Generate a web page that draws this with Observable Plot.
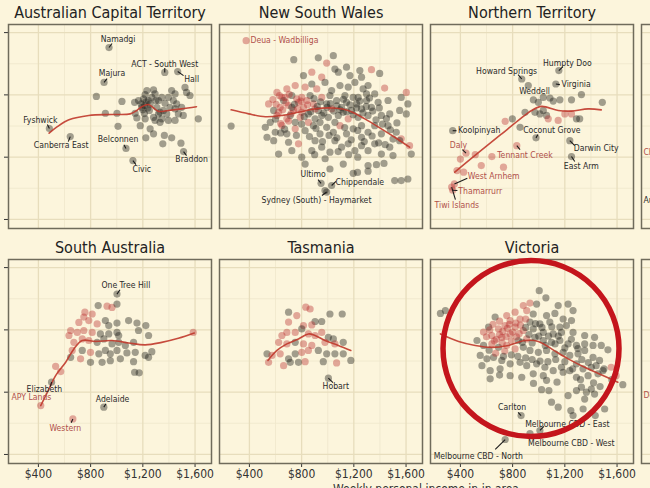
<!DOCTYPE html>
<html><head><meta charset="utf-8">
<script src="https://cdn.jsdelivr.net/npm/d3@7"></script>
<script src="https://cdn.jsdelivr.net/npm/@observablehq/plot@0.6"></script>
<style>
html,body{margin:0;padding:0;background:#fcf5dc;overflow:hidden;}
#wrap{width:852px;}
#wrap svg, #wrap svg text, #xlabel{font-family:"Liberation Sans Narrow","DejaVu Sans Condensed","Roboto Condensed","Arial Narrow",Lato,sans-serif !important;font-stretch:condensed;}
#xlabel{text-align:center;font-size:12px;color:#333;line-height:14px;width:852px;margin-top:0px;}
</style></head><body><div id="wrap"></div>
<script>
const states = ["Australian Capital Territory","New South Wales","Northern Territory","Queensland","South Australia","Tasmania","Victoria","Western Australia"];
const xTicks = [400, 800, 1200, 1600];
const xMinor = [600, 1000, 1400];
const yTicks = [20, 40, 60, 80];
const yMinor = [30, 50, 70];
const xTitle = "Weekly personal income in in area";

// [weekly income, value, red (1) / dark (0)]
const act = [[941,75.2,0],[903,64.0,0],[1368,67.2,0],[1467,67.5,0],[484,49.2,0],[644,46.6,0],[1071,42.8,0],[1124,38.9,0],[1512,41.8,0],
[844,59.5,0],[1040,57.9,0],[913,54.1,0],[1002,54.1,0],[1010,49.9,0],[1137,57.6,0],[1141,54.1,0],[1154,52.6,0],[1180,50.1,0],[1192,56.0,0],[1205,58.7,0],[1218,60.1,0],[1231,61.4,0],[1243,58.2,0],[1256,57.1,0],[1269,59.2,0],[1282,61.6,0],[1294,60.3,0],[1299,58.2,0],[1307,56.0,0],[1320,53.9,0],[1282,52.8,0],[1218,52.3,0],[1256,49.1,0],[1282,47.5,0],[1223,46.2,0],[1332,54.4,0],[1345,52.3,0],[1358,55.0,0],[1370,57.3,0],[1383,53.9,0],[1396,51.8,0],[1408,56.0,0],[1421,61.4,0],[1434,58.2,0],[1447,60.3,0],[1459,57.1,0],[1472,53.9,0],[1497,56.0,0],[1510,53.4,0],[1523,62.4,0],[1535,60.8,0],[1561,59.8,0],[1625,52.3,0],[1365,47.0,0],[1421,46.2,0],[1353,44.3,0],[1492,44.5,0],[1167,58.2,0],[1187,57.1,0],[1213,56.6,0],[1238,55.8,0],[1294,51.8,0],[1320,58.2,0],[1345,59.2,0],[1396,59.2,0],[1447,55.5,0],[1447,51.8,0],[1332,51.2,0],
[1200,55.2,0],[1225,57.8,0],[1250,55.0,0],[1212,54.0,0]];

const nsw = [[740,71.3,0],[928,71.9,0],[1043,72.6,0],[992,70.2,1],[878,67.3,1],[1055,68.3,0],[1144,68.9,0],[1246,67.8,0],[1335,68.1,1],[1398,66.9,0],[814,66.2,0],[954,65.7,1],[1081,67.3,0],[1170,66.2,0],[1259,65.7,0],
[611,60.8,1],[687,61.9,1],[751,63.0,1],[827,62.5,1],[878,63.5,0],[916,61.9,1],[979,64.0,0],[1030,61.4,0],[1094,63.0,0],[1157,62.5,0],[1208,64.0,0],[1271,61.9,0],[1309,63.0,0],[1360,60.3,0],[1436,62.2,1],[1602,60.8,1],[1563,59.2,0],[649,59.2,1],[725,59.8,0],[801,59.2,1],[865,59.8,0],[954,59.2,1],[1017,59.8,0],[1132,59.8,0],[1233,59.2,0],
[547,57.1,1],[586,55.0,0],[636,56.0,1],[662,58.2,0],[700,56.6,1],[738,55.0,1],[776,57.6,1],[814,56.0,1],[852,53.9,0],[890,57.1,1],[928,55.0,0],[954,53.4,0],[992,57.1,0],[1030,55.5,1],[1068,58.2,0],[1106,56.0,0],[1144,57.6,0],[1182,55.0,0],[1221,57.1,0],[1259,55.5,0],[1297,58.2,0],[1335,56.0,0],[1386,57.6,0],[1462,58.2,0],[1551,55.0,0],[1614,57.1,0],[1602,53.9,0],[611,53.4,1],[713,53.4,0],[789,52.8,1],[903,52.3,0],[1005,52.8,0],[1081,53.4,0],[1157,52.3,1],[1233,52.8,0],[1309,53.4,0],[1411,53.4,0],[1475,53.9,0],
[260,50.0,0],[522,49.6,0],[560,51.2,0],[598,48.0,0],[535,46.4,0],[649,50.2,1],[687,47.5,0],[751,49.1,1],[827,48.5,0],[890,50.1,0],[941,47.5,0],[992,49.6,0],[1043,48.0,0],[1094,50.1,1],[1144,47.5,0],[1195,49.1,0],[1259,50.1,0],[1309,48.0,0],[1360,50.1,0],[1411,47.5,0],[1462,50.1,0],[1525,48.0,0],[1563,45.9,1],[1627,43.7,1],
[586,45.3,0],[624,41.0,0],[725,42.1,0],[801,40.0,0],[827,37.8,0],[878,42.1,0],[954,43.2,0],[1017,41.6,0],[1055,45.3,0],[1106,43.2,0],[1157,44.3,0],[1208,42.1,0],[1259,43.7,0],[1309,42.1,0],[1360,44.3,0],[1411,41.0,0],[1475,43.2,0],[1551,45.3,0],[1640,41.0,0],[776,44.3,1],[903,45.3,0],[1259,46.4,0],
[1119,37.8,0],[1195,34.8,0],[1228,35.1,0],[1309,37.3,0],[1373,37.6,0],[1431,38.0,0],[1309,35.5,0],[1513,32.5,0],[1563,32.5,0],[1614,33.0,0],[1017,36.2,0],
[949,31.6,0],[1030,30.9,0],[992,28.8,0],[979,29.3,0],[375,77.4,1],
[674,59.2,1],[763,58.7,1],[840,58.2,1],[725,56.0,0],[801,54.4,1],[903,55.5,1],[624,54.4,1],[687,52.3,1],[852,51.2,1],[751,51.2,0],[941,51.2,0],[1055,51.2,0],[1119,54.4,0],[1195,59.2,0],[1297,60.3,0],
[580,58.5,1],[605,57.0,1],[630,59.8,1],[655,55.2,1],[680,57.5,1],[705,60.2,1],[720,54.0,1],[745,57.0,0],[770,55.5,1],[795,58.0,1],[820,53.0,0],[845,56.8,1],[870,54.6,0],[895,58.8,0],[920,56.3,0],[945,57.8,0],[970,54.2,0],[995,56.0,0],[1020,57.2,0],[1045,54.8,0],[1070,56.5,0],[1095,55.2,0],[1120,58.6,0],[1145,54.6,0],[1170,56.8,0],[1195,53.6,0],[1220,55.8,0],[1245,58.0,0],[1270,54.2,0],[1295,56.2,0],[1320,59.0,0],[1345,54.8,0],[1370,52.0,0],[1395,55.8,0],[1420,50.6,0],[1450,52.4,0],[1480,48.8,0],[1500,45.8,0],[1530,51.0,0],[600,52.2,0],[640,50.8,1],[670,49.0,0],[700,51.6,1],[760,47.0,0],[800,50.6,0],[860,46.6,0],[910,49.2,0],[960,45.0,0],[1010,47.0,0],[1070,46.2,0],[1130,49.5,0],[1180,45.6,0],[1230,48.6,0],[1280,45.0,0],[1340,46.8,0],[1390,44.6,0],[1440,44.0,0],[1500,40.5,0],[1230,40.0,0],[1160,40.8,0],[1080,41.8,0],[980,39.5,0],[900,40.8,0],[700,44.8,0],[640,47.8,0]];

const nt = [[1154,67.8,0],[870,65.1,0],[920,63.0,0],[1131,63.5,0],[341,48.5,0],[979,46.2,0],[1238,45.3,0],[1251,40.2,0],[832,43.7,1],[443,41.3,1],[354,31.4,1],[341,29.4,1],[333,30.4,1],
[959,58.4,0],[997,57.6,0],[1035,59.2,0],[1086,59.0,0],[1111,58.0,0],[1162,58.4,0],[1251,58.4,0],[1327,60.1,0],[1487,57.6,0],[895,54.4,0],[971,54.4,0],[1009,53.9,0],[1035,55.0,0],[1060,53.4,0],[1200,53.9,1],[1251,53.9,1],[1289,52.3,0],[1314,52.3,0],[1149,51.8,1],[1073,52.3,1],[798,52.3,0],[743,51.5,1],[857,49.6,0],[514,40.8,1],[400,39.4,1],[641,40.2,1],[560,37.3,1],[730,36.8,1],[374,35.7,1],[425,35.2,1]];

const sa = [[1002,71.5,0],[901,35.2,0],[664,31.4,1],[501,43.2,0],[418,35.7,1],
[858,67.8,0],[926,67.6,1],[964,67.2,1],[1002,68.3,0],[756,65.7,1],[812,65.1,1],[748,64.1,1],[710,62.4,1],[786,63.0,1],[850,61.9,1],[913,63.0,0],[939,61.4,0],[1002,62.2,0],[1091,63.0,0],[1155,62.2,0],[1223,61.4,0],[647,59.8,1],[698,59.2,1],[748,59.8,1],[812,59.2,1],[875,58.7,0],[939,58.7,0],[1002,59.2,0],[1015,58.2,0],[1167,59.8,0],[1244,58.2,0],[1586,59.2,1],[634,58.2,1],[672,56.0,1],[736,57.1,1],[786,56.6,1],[850,56.0,0],[901,57.1,0],[964,55.5,0],[1015,56.0,0],[1066,55.0,0],[1129,56.0,0],[659,53.4,1],[736,53.4,0],[799,52.8,1],[863,52.3,0],[913,53.4,0],[951,52.3,0],[1002,53.4,0],[1078,52.6,0],[1142,52.8,0],[1218,51.8,0],[1269,53.0,0],[647,51.2,0],[723,50.7,1],[799,49.6,0],[888,49.6,0],[951,50.1,0],[1028,50.7,0],[1129,49.8,0],[1244,51.2,0],[571,46.6,1],[532,48.3,1],[1137,46.4,0],[1172,46.2,0]];

const tas = [[1005,44.5,0],
[832,67.3,1],[865,66.7,1],[700,65.7,0],[763,64.6,1],[1017,65.1,0],[1111,65.1,0],[903,62.7,0],[954,62.7,0],[814,61.4,1],[878,61.6,1],[700,62.5,1],[649,58.2,1],[687,59.2,1],[751,59.2,1],[801,60.3,0],[852,58.7,1],[903,58.2,1],[1005,57.6,0],[1043,57.1,0],[954,59.2,1],[624,56.0,1],[687,55.5,1],[751,56.0,0],[814,55.5,1],[878,55.0,1],[979,56.0,1],[1055,55.5,1],[1119,56.0,0],[535,52.3,0],[573,51.8,1],[547,49.6,1],[636,52.3,1],[700,50.7,0],[751,52.3,0],[801,52.8,1],[852,53.4,1],[928,53.4,0],[992,52.3,0],[1055,52.3,0],[1119,52.3,0],[662,48.5,1],[713,49.6,0],[776,49.6,0],[827,49.8,1],[966,49.8,0],[1068,49.4,1],[1177,50.2,0]];

const vic = [[865,32.5,0],[1009,27.7,0],[933,26.7,0],[743,24.8,0],
[247,65.3,0],[285,66.2,0],[1004,72.6,0],[1055,70.3,0],[933,68.6,1],[984,68.3,0],[882,67.8,1],[1149,67.8,0],[1225,68.3,0],[1263,66.2,0],[819,65.7,1],[908,66.2,1],[958,65.1,0],[1060,64.6,0],[1124,65.3,0],[1187,63.5,0],[1251,63.0,0],[666,64.1,0],[755,64.6,1],[781,63.0,1],[857,63.5,1],[933,62.5,0],[1009,61.9,0],[1085,62.5,0],[1162,60.9,0],[1212,61.4,0],[616,60.9,0],[692,60.3,1],[742,61.4,1],[819,60.9,1],[882,59.8,1],[958,60.3,0],[1035,59.2,0],[1111,58.7,0],[1174,59.2,0],[1263,59.2,0],[1352,58.2,0],[1428,57.6,0],[577,59.3,1],[641,58.2,1],[717,57.6,1],[781,58.7,1],[844,56.6,0],[908,57.1,1],[971,57.6,0],[1035,56.6,0],[1098,56.0,0],[1162,56.6,0],[1225,55.5,0],[1289,55.0,0],[1352,55.5,0],[1416,55.0,0],[1479,55.0,0],[1530,53.6,0],[527,56.6,0],[577,55.0,0],[641,55.5,1],[692,54.4,0],[755,55.0,1],[819,53.9,1],[882,54.4,0],[933,53.4,0],[997,52.8,0],[1060,53.4,0],[1124,52.3,0],[1187,52.8,0],[1238,51.8,0],[1301,52.3,0],[1352,53.4,0],[1416,51.2,0],[1466,50.2,0],[1555,48.0,1],[1593,45.3,1],[1644,42.4,0],[552,51.8,0],[603,50.7,0],[654,51.2,0],[717,50.2,0],[781,49.1,0],[857,49.6,0],[908,48.5,0],[984,49.1,0],[1047,48.0,0],[1111,46.9,0],[1174,48.0,0],[1238,46.9,0],[1289,49.1,0],[1339,47.5,0],[1403,48.0,0],[1492,46.9,0],[565,48.5,0],[628,46.9,0],[704,47.5,0],[628,44.3,0],[781,45.3,0],[870,44.8,0],[958,45.9,0],[1035,45.3,0],[1187,46.4,0],[1289,44.8,0],[1378,45.3,0],[1454,45.9,0],
[1022,40.8,0],[1078,40.5,0],[1289,40.5,0],[1327,41.6,0],[1365,40.0,0],[1403,41.0,0],[1428,39.4,0],[1225,38.9,0],[1352,37.8,0],[1098,36.8,0],[1149,35.2,0],[1246,34.1,0],[1340,34.6,0],[1263,32.5,0],[1433,32.5,0],[1505,34.6,0],
[700,58.5,1],[760,60.5,1],[830,57.8,1],[720,55.8,1],[860,61.5,1],[790,56.5,1],[900,63.5,1],[660,56.5,1],[740,53.2,1],
[600,57.8,1],[625,60.0,1],[650,61.8,1],[675,57.0,1],[700,62.8,1],[725,59.5,1],[750,57.8,1],[775,61.8,1],[800,59.3,1],[825,62.2,1],[850,58.8,1],[875,56.0,0],[900,60.8,0],[925,58.5,0],[950,55.8,0],[975,62.0,0],[1000,58.0,0],[1025,60.8,0],[1050,55.0,0],[1075,58.0,0],[1100,61.0,0],[1125,55.5,0],[1150,58.0,0],[1200,54.2,0],[1250,57.0,0],[1300,54.0,0],[1330,50.5,0],[1380,49.5,0],[1440,48.5,0],[1500,47.5,0],[1560,44.0,0],[620,53.5,0],[670,52.5,1],[730,51.5,0],[790,52.0,0],[840,51.5,0],[900,51.0,0],[950,50.5,0],[1010,50.0,0],[1070,49.8,0],[1130,50.5,0],[1200,49.8,0],[1260,47.5,0],[1320,44.0,0],[1420,43.0,0],[1470,41.8,0],[1140,43.2,0],[1060,43.8,0],[960,42.8,0],[700,45.5,0]];

// smoothed trend lines [income, value]
const actTrend = [[482,47.7],[545,49.8],[634,52.0],[786,53.4],[964,53.7],[1103,53.9],[1154,55.0],[1192,56.2],[1243,56.9],[1282,55.8],[1320,54.7],[1396,55.0],[1497,55.5],[1611,56.2]];
const nswTrend = [[260,55.2],[395,53.9],[522,53.0],[649,53.4],[776,54.4],[903,55.5],[1030,55.8],[1157,55.0],[1284,52.3],[1411,49.1],[1513,46.4],[1627,43.2]];
const ntTrend = [[357,35.2],[463,38.9],[590,43.2],[717,47.5],[844,51.8],[946,55.0],[1022,56.3],[1149,55.0],[1251,54.8],[1378,55.5],[1479,55.2]];
const saTrend = [[418,35.7],[469,40.0],[532,45.3],[609,49.6],[672,53.9],[736,56.6],[837,56.3],[964,56.6],[1091,55.8],[1218,55.2],[1345,56.0],[1472,57.3],[1594,59.0]];
const tasTrend = [[542,50.2],[611,53.4],[687,55.5],[776,57.1],[852,58.7],[903,58.2],[979,56.6],[1081,55.0],[1177,53.4]];
const vicTrend = [[247,58.7],[387,56.3],[514,55.0],[641,54.4],[768,55.0],[895,56.6],[997,56.3],[1098,53.9],[1225,50.7],[1352,48.0],[1479,45.6],[1606,43.2]];

// labels: [state, name, point income, point value, label income, label value, segment income, segment value, red, anchor]
const labelRows = [
["Australian Capital Territory","Namadgi",941,75.2,1010,77.8,964,76.5,0,"middle"],
["Australian Capital Territory","Majura",903,64.0,964,66.8,926,65.2,0,"middle"],
["Australian Capital Territory","ACT - South West",1368,67.2,1368,70.0,1368,68.6,0,"middle"],
["Australian Capital Territory","Hall",1467,67.5,1574,64.9,1512,66.2,0,"middle"],
["Australian Capital Territory","Fyshwick",484,49.2,415,51.8,469,50.5,0,"middle"],
["Australian Capital Territory","Canberra East",644,46.6,575,43.7,629,45.0,0,"middle"],
["Australian Capital Territory","Belconnen",1071,42.8,1010,45.7,1055,44.0,0,"middle"],
["Australian Capital Territory","Civic",1124,38.9,1192,36.0,1147,37.6,0,"middle"],
["Australian Capital Territory","Braddon",1512,41.8,1574,39.2,1535,40.5,0,"middle"],
["New South Wales","Deua - Wadbilliga",375,77.4,408,77.4,null,null,1,"start"],
["New South Wales","Ultimo",949,31.6,888,34.4,926,32.8,0,"middle"],
["New South Wales","Chippendale",1030,30.9,1246,31.8,1063,32.2,0,"middle"],
["New South Wales","Sydney (South) - Haymarket",992,28.8,914,26.3,956,27.7,0,"middle"],
["Northern Territory","Humpty Doo",1154,67.8,1219,70.3,1185,69.1,0,"middle"],
["Northern Territory","Howard Springs",870,65.1,754,67.6,842,66.5,0,"middle"],
["Northern Territory","Weddell",920,63.0,968,61.2,null,null,0,"middle"],
["Northern Territory","Virginia",1131,63.5,1175,63.3,1162,63.3,0,"start"],
["Northern Territory","Koolpinyah",341,48.5,382,48.5,370,48.5,0,"start"],
["Northern Territory","Coconut Grove",979,46.2,1101,48.5,994,47.3,0,"middle"],
["Northern Territory","Darwin City",1238,45.3,1440,42.8,1276,43.7,0,"middle"],
["Northern Territory","East Arm",1251,40.2,1326,37.0,1276,38.6,0,"middle"],
["Northern Territory","Tennant Creek",832,43.7,895,40.5,857,42.4,1,"middle"],
["Northern Territory","Daly",443,41.3,385,43.7,415,42.4,1,"middle"],
["Northern Territory","West Arnhem",354,31.4,655,33.8,453,33.2,1,"middle"],
["Northern Territory","Thamarrurr",341,29.4,552,29.1,377,29.3,1,"middle"],
["Northern Territory","Tiwi Islands",333,30.4,373,24.5,362,26.4,1,"middle"],
["South Australia","One Tree Hill",1002,71.5,1070,74.2,1025,72.9,0,"middle"],
["South Australia","Elizabeth",501,43.2,446,40.8,492,41.8,0,"middle"],
["South Australia","APY Lands",418,35.7,347,38.3,null,null,1,"middle"],
["South Australia","Adelaide",901,35.2,968,37.8,918,36.3,0,"middle"],
["South Australia","Western",664,31.4,606,28.4,651,30.2,1,"middle"],
["Tasmania","Hobart",1005,44.5,1062,41.8,1040,43.1,0,"middle"],
["Victoria","Carlton",865,32.5,796,35.2,842,33.5,0,"middle"],
["Victoria","Melbourne CBD - East",1009,27.7,1219,29.8,1040,29.0,0,"middle"],
["Victoria","Melbourne CBD - West",933,26.7,1250,23.7,null,null,0,"middle"],
["Victoria","Melbourne CBD - North",743,24.8,537,19.4,667,21.6,0,"middle"],
["Queensland","Cherbourg",null,null,186,41.5,null,null,1,"start"],
["Queensland","Aurukun",null,null,186,26.1,null,null,0,"start"],
["Western Australia","Derby - West Kimberley",null,null,186,38.9,null,null,1,"start"]
];

// highlight ring drawn on the Victoria panel
const ring = [{state: "Victoria", income: 941, value: 54.0}];

const pointSets = {"Australian Capital Territory": act, "New South Wales": nsw, "Northern Territory": nt, "South Australia": sa, "Tasmania": tas, "Victoria": vic};
const trendSets = {"Australian Capital Territory": actTrend, "New South Wales": nswTrend, "Northern Territory": ntTrend, "South Australia": saTrend, "Tasmania": tasTrend, "Victoria": vicTrend};

const points = Object.entries(pointSets).flatMap(([state, arr]) => arr.map(([income, value, red]) => ({state, income, value, red})));
const trends = Object.entries(trendSets).flatMap(([state, arr]) => arr.map(([income, value]) => ({state, income, value})));
const labels = labelRows.map(([state, name, px, py, lx, ly, sx, sy, red, anchor]) => ({state, name, px, py, lx, ly, sx, sy, red, anchor}));
const segs = labels.filter(d => d.sx != null && d.px != null);
const panels = states.map(state => ({state}));

const col = d => states.indexOf(d.state) % 4;
const row = d => Math.floor(states.indexOf(d.state) / 4);
const DARK = "#1a1a14", RED = "#b83030", LRED = "#b0504a", LDARK = "#2a2a2a";

const chart = Plot.plot({
  width: 852, height: 482,
  marginLeft: 6, marginRight: 6, marginTop: 24, marginBottom: 19,
  style: {background: "transparent", fontSize: "12px", color: "#333", overflow: "hidden"},
  fx: {domain: [0,1,2,3], paddingInner: 0.0377, paddingOuter: 0, axis: null},
  fy: {domain: [0,1], paddingInner: 0.132, paddingOuter: 0, axis: null},
  x: {domain: [171, 1726], ticks: xTicks, tickFormat: d => "$" + d3.format(",")(d), tickSize: 4, tickPadding: 2, label: null},
  y: {domain: [17.1, 82.6], ticks: yTicks, tickFormat: () => "", tickSize: 4, label: null},
  marks: [
    Plot.ruleX(xMinor, {stroke: "#efe7cb", strokeWidth: 0.8}),
    Plot.ruleY(yMinor, {stroke: "#efe7cb", strokeWidth: 0.8}),
    Plot.ruleX(xTicks, {stroke: "#e7ddbc", strokeWidth: 1.3}),
    Plot.ruleY(yTicks, {stroke: "#e7ddbc", strokeWidth: 1.3}),
    Plot.dot(points, {x: "income", y: "value", fx: col, fy: row, r: 3.6, fill: d => d.red ? RED : DARK, fillOpacity: 0.4, stroke: null}),
    Plot.line(trends, {x: "income", y: "value", fx: col, fy: row, z: "state", stroke: "#c0392b", strokeWidth: 1.6, strokeOpacity: 0.9, curve: "catmull-rom"}),
    Plot.link(segs, {x1: "sx", y1: "sy", x2: "px", y2: "py", fx: col, fy: row, stroke: "#1a1a1a", strokeWidth: 1.1}),
    Plot.text(labels.filter(d => d.anchor === "middle"), {x: "lx", y: "ly", fx: col, fy: row, text: "name", fill: d => d.red ? LRED : LDARK, fontSize: 8.6, textAnchor: "middle"}),
    Plot.text(labels.filter(d => d.anchor === "start"), {x: "lx", y: "ly", fx: col, fy: row, text: "name", fill: d => d.red ? LRED : LDARK, fontSize: 8.6, textAnchor: "start"}),
    Plot.frame({stroke: "#6f6b5b", strokeWidth: 1.5}),
    Plot.text(panels, {fx: col, fy: row, text: "state", frameAnchor: "top", lineAnchor: "middle", dy: -12, fontSize: 16, fill: "#222"}),
    Plot.dot(ring, {x: "income", y: "value", fx: col, fy: row, r: 88, stroke: "#c4151c", strokeWidth: 5.5, fill: "none"})
  ]
});
const wrap = document.getElementById("wrap");
wrap.appendChild(chart);
const xl = document.createElement("div");
xl.id = "xlabel";
xl.textContent = xTitle;
wrap.appendChild(xl);
</script>
</body></html>
